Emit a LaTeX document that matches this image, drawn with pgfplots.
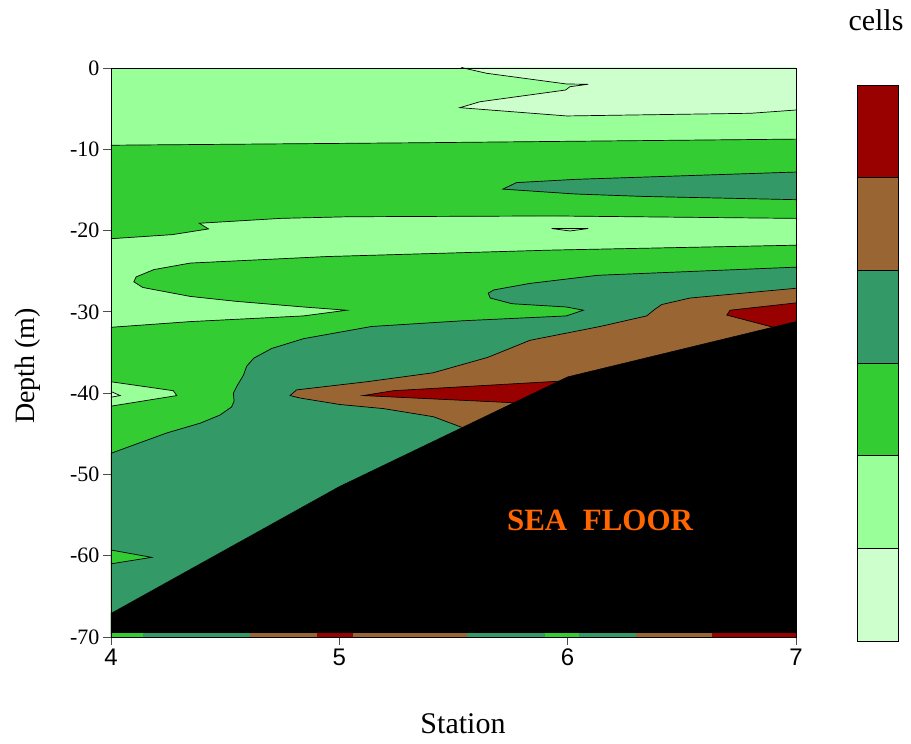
\documentclass[border=0pt]{standalone}
\usepackage{fontspec}
\setmainfont{Liberation Serif}
\newfontfamily\arial{Liberation Sans}
\usepackage{pgfplots}
\pgfplotsset{compat=1.18}
\definecolor{cLightest}{HTML}{CCFFCC}
\definecolor{cLight}{HTML}{99FF99}
\definecolor{cGreen}{HTML}{33CC33}
\definecolor{cTeal}{HTML}{339966}
\definecolor{cBrown}{HTML}{996633}
\definecolor{cRed}{HTML}{990000}
\definecolor{cOrange}{HTML}{FF6600}
\begin{document}
\begin{tikzpicture}
\begin{axis}[
  scale only axis, width=685pt, height=569pt,
  xmin=4, xmax=7, ymin=-70, ymax=0,
  xtick={4,5,6,7}, xticklabels={4,5,6,7},
  xticklabel style={font=\arial\fontsize{24}{28}\selectfont},
  ytick={0,-10,-20,-30,-40,-50,-60,-70},
  yticklabels={0,-10,-20,-30,-40,-50,-60,-70},
  yticklabel style={font=\fontsize{22}{26}\selectfont},
  tick align=outside, major tick length=8pt,
  xtick pos=left, ytick pos=left,
  axis line style={black, line width=0.8pt},
  tick style={black!70, line width=0.8pt},
  axis background/.style={fill=cLight},
  axis on top,
  cl/.style={draw=black, line width=0.7pt},
]
% top lightest
\addplot[fill=cLightest, cl] coordinates {(5.52,0.3)(5.543,0)(5.645,-0.65)(5.996,-1.97)(6.090,-2.0)(6.010,-2.30)(5.991,-2.71)(5.616,-4.15)(5.528,-4.88)(5.996,-5.90)(6.802,-5.57)(7,-5.17)(7.1,-5.1)(7.1,0.5)(5.5,0.5)} -- cycle;
% upper green band
\addplot[fill=cGreen, cl] coordinates {(3.9,-9.5)(4,-9.5)(5.34,-9.2)(7,-8.75)(7.1,-8.73)(7.1,-18.5)(7,-18.5)(5.934,-18.2)(5.041,-18.3)(4.744,-18.5)(4.387,-19.1)(4.427,-19.8)(4.268,-20.5)(4,-21.0)(3.9,-21.1)} -- cycle;
% teal inset
\addplot[fill=cTeal, cl] coordinates {(5.716,-14.9)(5.776,-14.1)(6.033,-13.7)(7,-12.8)(7.1,-12.8)(7.1,-16.2)(7,-16.2)(6.331,-15.8)(6.033,-15.5)} -- cycle;
% tiny lens
\addplot[fill=cLight, cl] coordinates {(5.93,-19.75)(6.09,-19.75)(6.01,-20.05)} -- cycle;
% lower green
\addplot[fill=cGreen, cl] coordinates {(7.1,-21.8)(7,-21.8)(5.934,-22.4)(4.942,-23.2)(4.347,-24.0)(4.188,-24.8)(4.11,-25.7)(4.10,-26.3)(4.139,-27.0)(4.347,-28.1)(4.546,-28.7)(4.843,-29.4)(5.032,-29.8)(4.843,-30.5)(4.347,-31.2)(4,-31.9)(3.9,-32)(3.9,-71)(7.1,-71)} -- cycle;
% light wedge at -40
\addplot[fill=cLight, cl] coordinates {(3.9,-38.6)(4,-38.6)(4.273,-39.7)(4.288,-40.3)(4,-41.6)(3.9,-41.6)} -- cycle;
\addplot[fill=cLightest, cl] coordinates {(3.9,-39.8)(4,-39.8)(4.04,-40.3)(4,-40.5)(3.9,-40.5)} -- cycle;
% teal
\addplot[fill=cTeal, cl] coordinates {(7.1,-24.5)(7,-24.5)(6.133,-25.5)(5.835,-26.5)(5.677,-27.3)(5.652,-27.7)(5.661,-28.3)(5.756,-29.0)(5.994,-29.4)(6.069,-29.8)(5.994,-30.5)(5.538,-31.1)(5.141,-31.8)(4.843,-33.3)(4.704,-34.5)(4.625,-35.7)(4.594,-36.7)(4.58,-37.8)(4.55,-39.2)(4.536,-40.0)(4.539,-41.0)(4.528,-41.7)(4.477,-42.7)(4.39,-43.7)(4.244,-44.9)(4,-47.4)(3.9,-47.6)(3.9,-71)(7.1,-71)} -- cycle;
% green wedge at -60
\addplot[fill=cGreen, cl] coordinates {(3.9,-59.3)(4,-59.3)(4.178,-60.2)(4,-61.0)(3.9,-61.0)} -- cycle;
% brown
\addplot[fill=cBrown, cl] coordinates {(7.1,-27.1)(7,-27.1)(6.536,-28.3)(6.412,-29.1)(6.381,-29.7)(6.346,-30.5)(6.142,-31.8)(5.835,-33.5)(5.65,-35.6)(5.41,-37.5)(5.12,-38.6)(4.813,-39.6)(4.784,-40.3)(4.828,-40.6)(5.003,-41.4)(5.193,-41.9)(5.412,-42.9)(5.536,-44.2)(5.6,-50)(7.1,-50)} -- cycle;
% red
\addplot[fill=cRed, cl] coordinates {(5.105,-40.3)(5.236,-39.7)(5.981,-38.5)(6.1,-39.5)(5.777,-41.2)} -- cycle;
\addplot[fill=cRed, cl] coordinates {(6.697,-30.4)(6.711,-29.8)(7,-28.9)(7.1,-28.9)(7.1,-34)(6.901,-31.9)} -- cycle;
% sea floor
\addplot[fill=black, draw=black, line width=0.5pt] coordinates {(3.9,-67.1)(4,-67.1)(5.0,-51.5)(6.0,-38.0)(7,-31.2)(7.1,-31.2)(7.1,-69.55)(3.9,-69.55)} -- cycle;
% bottom strip
\addplot[fill=cGreen, draw=none] coordinates {(3.9,-69.55)(4.14,-69.55)(4.14,-71)(3.9,-71)} -- cycle;
\addplot[fill=cTeal, draw=none] coordinates {(4.14,-69.55)(4.61,-69.55)(4.61,-71)(4.14,-71)} -- cycle;
\addplot[fill=cBrown, draw=none] coordinates {(4.61,-69.55)(4.9,-69.55)(4.9,-71)(4.61,-71)} -- cycle;
\addplot[fill=cRed, draw=none] coordinates {(4.9,-69.55)(5.06,-69.55)(5.06,-71)(4.9,-71)} -- cycle;
\addplot[fill=cBrown, draw=none] coordinates {(5.06,-69.55)(5.56,-69.55)(5.56,-71)(5.06,-71)} -- cycle;
\addplot[fill=cTeal, draw=none] coordinates {(5.56,-69.55)(5.9,-69.55)(5.9,-71)(5.56,-71)} -- cycle;
\addplot[fill=cGreen, draw=none] coordinates {(5.9,-69.55)(6.05,-69.55)(6.05,-71)(5.9,-71)} -- cycle;
\addplot[fill=cTeal, draw=none] coordinates {(6.05,-69.55)(6.3,-69.55)(6.3,-71)(6.05,-71)} -- cycle;
\addplot[fill=cBrown, draw=none] coordinates {(6.3,-69.55)(6.63,-69.55)(6.63,-71)(6.3,-71)} -- cycle;
\addplot[fill=cRed, draw=none] coordinates {(6.63,-69.55)(7.1,-69.55)(7.1,-71)(6.63,-71)} -- cycle;
\node[font=\bfseries\fontsize{31}{35}\selectfont, text=cOrange] at (axis cs:6.142,-55.6) {SEA\ \ FLOOR};
\end{axis}
\begin{axis}[
  at={(746pt,-4pt)}, anchor=south west,
  scale only axis, width=41pt, height=556pt,
  xmin=0, xmax=1, ymin=0, ymax=6,
  xtick=\empty, ytick=\empty,
  axis line style={black, line width=0.8pt},
  axis on top,
]
\addplot[fill=cLightest, draw=black, line width=0.7pt] coordinates {(0,0)(1,0)(1,1)(0,1)} -- cycle;
\addplot[fill=cLight, draw=black, line width=0.7pt] coordinates {(0,1)(1,1)(1,2)(0,2)} -- cycle;
\addplot[fill=cGreen, draw=black, line width=0.7pt] coordinates {(0,2)(1,2)(1,3)(0,3)} -- cycle;
\addplot[fill=cTeal, draw=black, line width=0.7pt] coordinates {(0,3)(1,3)(1,4)(0,4)} -- cycle;
\addplot[fill=cBrown, draw=black, line width=0.7pt] coordinates {(0,4)(1,4)(1,5)(0,5)} -- cycle;
\addplot[fill=cRed, draw=black, line width=0.7pt] coordinates {(0,5)(1,5)(1,6)(0,6)} -- cycle;
\end{axis}
\node[font=\fontsize{30}{34}\selectfont, anchor=base] at (765pt,606pt) {cells};
\node[font=\fontsize{30}{34}\selectfont] at (352pt,-87pt) {Station};
\node[font=\fontsize{28}{32}\selectfont, rotate=90] at (-83pt,271pt) {Depth (m)};
\pgfresetboundingbox
\path[use as bounding box] (-111pt,-107pt) rectangle (800pt,637pt);
\end{tikzpicture}
\end{document}
